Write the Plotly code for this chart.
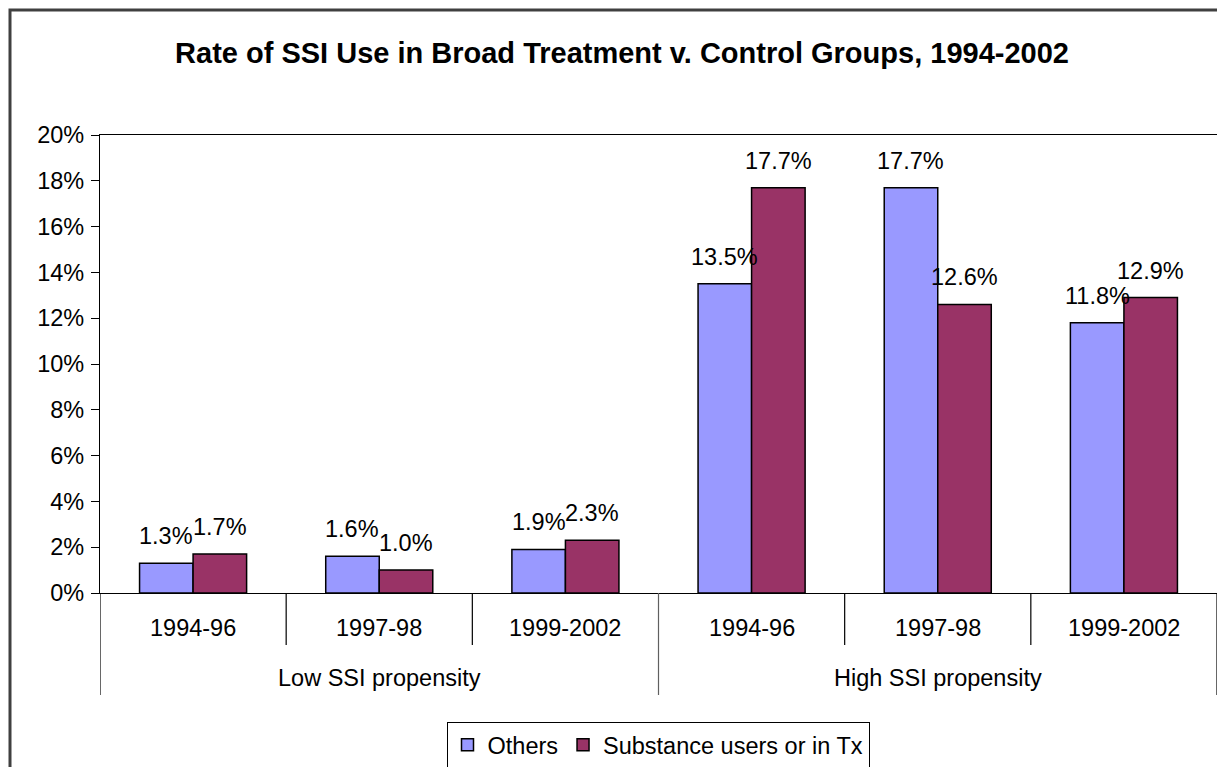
import plotly.graph_objects as go

periods = ["1994-96", "1997-98", "1999-2002", "1994-96", "1997-98", "1999-2002"]
groups = ["Low SSI propensity", "High SSI propensity"]
others = [0.013, 0.016, 0.019, 0.135, 0.177, 0.118]
substance = [0.017, 0.010, 0.023, 0.177, 0.126, 0.129]
series_names = ["Others", "Substance users or in Tx"]
colors = ["#9999FF", "#993366"]
y_ticks = [0, 0.02, 0.04, 0.06, 0.08, 0.10, 0.12, 0.14, 0.16, 0.18, 0.20]
title = "Rate of SSI Use in Broad Treatment v. Control Groups, 1994-2002"

FONT = "Arial, Liberation Sans, sans-serif"
FS = 23.5
W, H = 1225, 767
OFF = 8  # page body margin
# target screen coords of plot area
SX0, SX1, SY0, SY1 = 100, 1217, 135, 593
L = SX0 - OFF
T = SY0 - OFF
R = W - (SX1 - OFF)
B = H - (SY1 - OFF)
plot_h = H - T - B
plot_w = W - L - R
bargap = 0.425

xs = list(range(len(periods)))

fig = go.Figure()
for name, vals, col in zip(series_names, [others, substance], colors):
    fig.add_trace(go.Bar(
        x=xs, y=vals, name=name,
        marker=dict(color=col, line=dict(color="black", width=1.5)),
        hoverinfo="skip",
    ))

def py(px_below_axis):
    return -px_below_axis / plot_h

shapes = []
# outer chart border
shapes.append(dict(type="rect", xref="paper", yref="paper",
                   x0=(10 - SX0) / plot_w, x1=(W + 40 - SX0) / plot_w,
                   y0=py(B + 40), y1=1 + (SY0 - 10) / plot_h,
                   line=dict(color="#404040", width=3), fillcolor="rgba(0,0,0,0)", layer="above"))
# category separators
for i in range(len(periods) + 1):
    xv = i - 0.5
    if i in (0, len(periods), len(periods) // 2):
        y1 = py(102)
        col = "black" if i in (0, len(periods)) else "#606060"
    else:
        y1 = py(52)
        col = "black"
    shapes.append(dict(type="line", xref="x", yref="paper", x0=xv, x1=xv, y0=0, y1=y1,
                       line=dict(color=col, width=1.2)))

annotations = []
for i, p in enumerate(periods):
    annotations.append(dict(x=i, xref="x", y=py(35), yref="paper", text=p, showarrow=False,
                            yanchor="middle", font=dict(size=FS, color="black", family=FONT)))
n_per_group = len(periods) // len(groups)
for g, gname in enumerate(groups):
    annotations.append(dict(x=g * n_per_group + (n_per_group - 1) / 2, xref="x", y=py(85), yref="paper",
                            text=gname, showarrow=False, yanchor="middle",
                            font=dict(size=FS, color="black", family=FONT)))
off = (1 - bargap) / 4
for k, vals in enumerate([others, substance]):
    for i, v in enumerate(vals):
        annotations.append(dict(x=i + (k * 2 - 1) * off, xref="x", y=v, yref="y",
                                text=f"{v*100:.1f}%", showarrow=False, yanchor="middle", yshift=27,
                                font=dict(size=FS, color="black", family=FONT)))

fig.update_layout(
    width=W, height=H,
    margin=dict(l=L, r=R, t=T, b=B, autoexpand=False),
    paper_bgcolor="white", plot_bgcolor="white",
    barmode="group", bargap=bargap, bargroupgap=0,
    font=dict(family=FONT, size=FS, color="black"),
    title=dict(text=f"<b>{title}</b>", x=(622 - OFF) / W, xref="container", xanchor="center",
               y=1 - (53 - OFF) / H, yref="container", yanchor="middle",
               font=dict(size=29, family=FONT, color="black")),
    xaxis=dict(range=[-0.5, len(periods) - 0.5], showticklabels=False, ticks="",
               showline=True, linecolor="black", linewidth=1.2, mirror=True,
               showgrid=False, zeroline=False, fixedrange=True),
    yaxis=dict(range=[0, 0.2], tickvals=y_ticks, tickformat=".0%", ticks="outside", ticklen=8,
               tickcolor="black", tickwidth=1.2, showline=True, linecolor="black", linewidth=1.2,
               mirror=True, showgrid=False, zeroline=False, ticklabelstandoff=2,
               tickfont=dict(size=FS, family=FONT, color="black"), fixedrange=True),
    legend=dict(orientation="h", x=(658 - SX0) / plot_w, xref="paper", xanchor="center",
                y=py(722 - SY1), yref="paper", yanchor="top", bordercolor="black", borderwidth=1,
                font=dict(size=FS, family=FONT, color="black"), itemwidth=30,
                traceorder="normal", tracegroupgap=0),
    shapes=shapes, annotations=annotations,
    showlegend=True,
)

fig.write_html("out.html")
